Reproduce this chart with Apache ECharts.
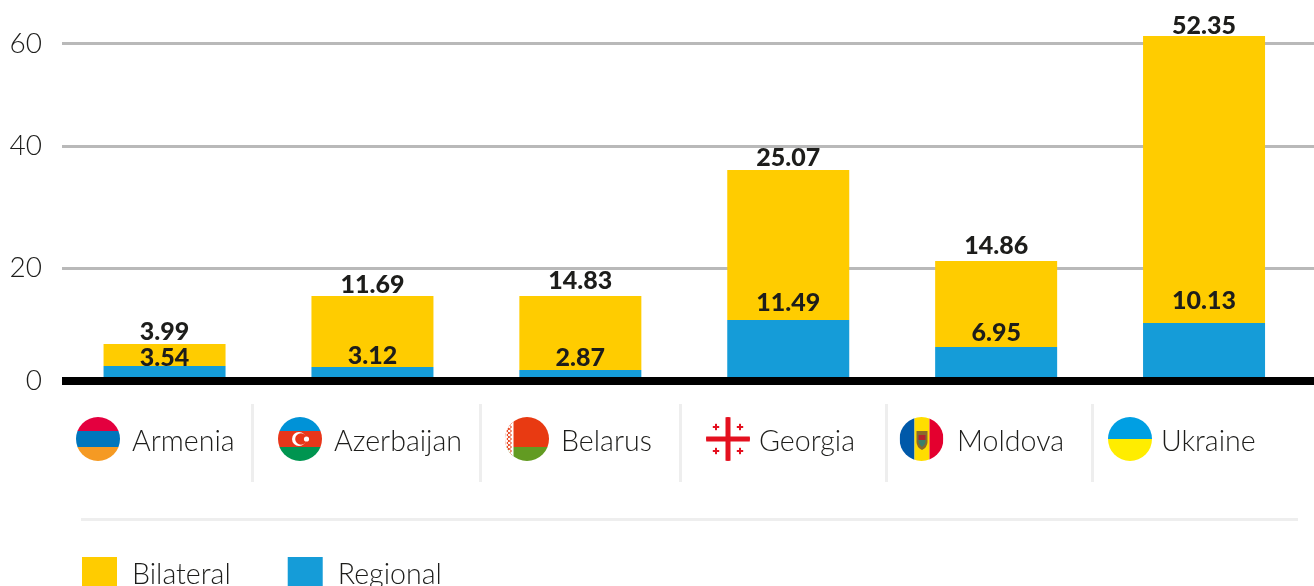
<!DOCTYPE html>
<html>
<head>
<meta charset="utf-8">
<style>html,body{margin:0;padding:0;background:#fff;overflow:hidden}#c{width:1314px;height:586px}</style>
<script src="https://cdn.jsdelivr.net/npm/echarts@6/dist/echarts.min.js"></script>
</head>
<body>
<div id="c"></div>
<script>
// ---- data ----
const categories = ['Armenia', 'Azerbaijan', 'Belarus', 'Georgia', 'Moldova', 'Ukraine'];
// Values printed on the chart
const regionalPrinted = [3.54, 3.12, 2.87, 11.49, 6.95, 10.13];
const bilateralPrinted = [3.99, 11.69, 14.83, 25.07, 14.86, 52.35];
// Bar heights as read against the axis in the picture
const regionalDrawn = [2.67, 2.49, 1.96, 10.84, 6.04, 10.31];
const bilateralDrawn = [3.91, 12.62, 13.15, 26.67, 15.29, 51.02];
// Axis ticks: where each gridline sits, and what it is labelled
const tickValues = [0, 20.05, 41.78, 60];
const tickLabels = ['0', '20', '40', '60'];

// ---- style / layout ----
const FONT = 'Lato, "Open Sans", sans-serif';
const INK = '#1d1d1b';
const YELLOW = '#ffcc00';
const BLUE = '#159cd8';
const regionalNudge = [4, 1, 0, -5, -2, -10];
const bilateralNudge = [0, 1, -3, 0, -3, 2];

function svg(inner) {
  const s = '<svg xmlns="http://www.w3.org/2000/svg" width="176" height="176" viewBox="0 0 44 44">' +
    '<defs><clipPath id="k"><circle cx="22" cy="22" r="22"/></clipPath></defs><g clip-path="url(#k)">' +
    inner + '</g></svg>';
  return 'data:image/svg+xml;charset=utf-8,' + encodeURIComponent(s);
}
function smallCross(x, y) {
  return '<rect x="' + (x - 3.2) + '" y="' + (y - 1) + '" width="6.4" height="2" fill="#e4101f"/>' +
         '<rect x="' + (x - 1) + '" y="' + (y - 3.2) + '" width="2" height="6.4" fill="#e4101f"/>';
}
function belarusOrnament() {
  let o = '<rect width="8.5" height="44" fill="#fff"/>';
  for (let i = 0; i < 11; i++) {
    const y = 2 + i * 4;
    o += '<path d="M4.2 ' + (y - 2) + ' L6.6 ' + y + ' L4.2 ' + (y + 2) + ' L1.8 ' + y + ' Z" fill="none" stroke="#e83a12" stroke-width="1"/>';
  }
  return o;
}
const flags = [
  svg('<rect width="44" height="14" fill="#e4003f"/><rect y="14" width="44" height="16" fill="#0076bc"/><rect y="30" width="44" height="14" fill="#f59a23"/>'),
  svg('<rect width="44" height="14" fill="#0092d7"/><rect y="14" width="44" height="16" fill="#e8361a"/><rect y="30" width="44" height="14" fill="#009550"/>' +
      '<circle cx="21" cy="22" r="7" fill="#fff"/><circle cx="23" cy="22" r="5.8" fill="#e8361a"/><circle cx="28.5" cy="22" r="2.6" fill="#fff"/>'),
  svg('<rect width="44" height="30" fill="#e83a12"/><rect y="30" width="44" height="14" fill="#629b22"/>' + belarusOrnament()),
  svg('<rect width="44" height="44" fill="#fff"/><rect x="19.5" width="5" height="44" fill="#e4101f"/><rect y="19.5" width="44" height="5" fill="#e4101f"/>' +
      smallCross(10, 10) + smallCross(34, 10) + smallCross(10, 34) + smallCross(34, 34)),
  svg('<rect width="15" height="44" fill="#0059a9"/><rect x="15" width="15" height="44" fill="#ffdd00"/><rect x="30" width="14" height="44" fill="#e4002f"/>' +
      '<path d="M17 14 H28 V25 Q28 30 22.5 33 Q17 30 17 25 Z" fill="#8a6a2b"/><path d="M19 18 H26 V25 Q26 27 22.5 30 Q19 27 19 25 Z" fill="#3c7f6a"/><rect x="19" y="18" width="7" height="5" fill="#b4232a"/>'),
  svg('<rect width="44" height="22" fill="#009fe3"/><rect y="22" width="44" height="22" fill="#ffed00"/>')
];

const flagX = [76, 278, 505, 706, 899.5, 1108];
const nameX = [132, 334, 561, 759, 957, 1161];
const dividerX = [251, 479, 679, 885, 1091];

const graphicElements = [];
categories.forEach(function (name, i) {
  graphicElements.push({ type: 'image', style: { image: flags[i], x: flagX[i], y: 417, width: 44, height: 44 }, silent: true });
  graphicElements.push({ type: 'text', style: { text: name, x: nameX[i], y: 442, fill: INK, font: '300 28.6px ' + FONT, textVerticalAlign: 'middle' }, silent: true });
});
dividerX.forEach(function (x) {
  graphicElements.push({ type: 'rect', shape: { x: x, y: 404, width: 3, height: 78 }, style: { fill: '#eeeeee' }, silent: true });
});
graphicElements.push({ type: 'rect', shape: { x: 81, y: 518, width: 1217, height: 3 }, style: { fill: '#eeeeee' }, silent: true });

const chart = echarts.init(document.getElementById('c'), null, { renderer: 'canvas' });
const labelBase = { show: true, position: 'top', distance: 0, color: INK, fontFamily: FONT, fontWeight: 900, fontSize: 25 };
const yMax = 64;

chart.setOption({
  animation: false,
  backgroundColor: '#fff',
  grid: [
    { left: 62, right: 0, top: 21, height: 360 },
    { left: 60.6, width: 1247.4, top: 21, height: 360 }
  ],
  xAxis: [
    { gridIndex: 0, type: 'category', data: categories, z: 10, axisLine: { lineStyle: { color: '#000', width: 8, cap: 'butt' } }, axisTick: { show: false }, axisLabel: { show: false } },
    { gridIndex: 1, type: 'category', data: categories, show: false }
  ],
  yAxis: [
    {
      gridIndex: 0, type: 'value', min: 0, max: yMax,
      axisLine: { show: false },
      axisTick: { show: false, customValues: tickValues },
      axisLabel: {
        customValues: tickValues, margin: 20, color: INK, fontFamily: FONT, fontWeight: 300, fontSize: 28,
        formatter: function (v) { return tickLabels[tickValues.indexOf(v)]; }
      },
      splitLine: { show: true, lineStyle: { color: '#b9b9b9', width: 3 } }
    },
    { gridIndex: 1, type: 'value', min: 0, max: yMax, show: false, splitLine: { show: false } }
  ],
  legend: {
    left: 82, top: 557, padding: 0, itemWidth: 35, itemHeight: 35, itemGap: 57, icon: 'rect',
    data: ['Bilateral', 'Regional'],
    textStyle: { color: INK, fontFamily: FONT, fontWeight: 300, fontSize: 28.6, padding: [0, 0, 0, 10] },
    selectedMode: false
  },
  graphic: { elements: graphicElements },
  series: [
    {
      name: 'Regional', type: 'bar', stack: 'total', xAxisIndex: 1, yAxisIndex: 1, barWidth: 122,
      itemStyle: { color: BLUE },
      z: 3,
      data: regionalDrawn.map(function (v, i) {
        return { value: v, label: { offset: [0, regionalNudge[i]] } };
      }),
      label: Object.assign({}, labelBase, {
        formatter: function (p) { return regionalPrinted[p.dataIndex].toFixed(2); }
      })
    },
    {
      name: 'Bilateral', type: 'bar', stack: 'total', xAxisIndex: 1, yAxisIndex: 1, barWidth: 122,
      itemStyle: { color: YELLOW },
      z: 2,
      data: bilateralDrawn.map(function (v, i) {
        return { value: v, label: { offset: [0, bilateralNudge[i]] } };
      }),
      label: Object.assign({}, labelBase, {
        formatter: function (p) { return bilateralPrinted[p.dataIndex].toFixed(2); }
      })
    }
  ]
});
</script>
</body>
</html>
